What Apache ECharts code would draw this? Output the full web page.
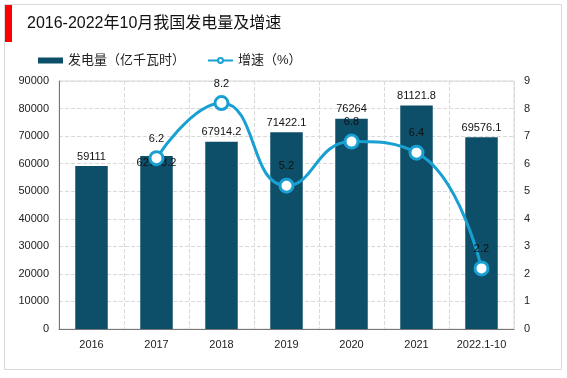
<!DOCTYPE html>
<html><head><meta charset="utf-8">
<script src="https://cdn.jsdelivr.net/npm/echarts@6/dist/echarts.min.js"></script>
<style>html,body{margin:0;padding:0;background:#fff}#c{width:567px;height:378px}</style>
</head><body><div id="c"></div>
<script>
const categories = ['2016','2017','2018','2019','2020','2021','2022.1-10'];
const generation = [59111, 62758.2, 67914.2, 71422.1, 76264, 81121.8, 69576.1];
const growth = ['-', 6.2, 8.2, 5.2, 6.8, 6.4, 2.2];
const leftTicks = {min:0, max:90000, interval:10000};
const rightTicks = {min:0, max:9, interval:1};

const chart = echarts.init(document.getElementById('c'));
const font = '"Liberation Sans", Arial, "Noto Sans CJK SC", sans-serif';
chart.setOption({
  backgroundColor:'#fff',
  animation:false,
  textStyle:{fontFamily:font},
  graphic:[
    {type:'rect', shape:{x:4.5,y:4.5,width:557,height:365}, style:{fill:'none',stroke:'#d9d9d9',lineWidth:1}},
    {type:'rect', shape:{x:5,y:5,width:7,height:37}, style:{fill:'#ff0000'}},
    {type:'text', left:27, top:16, style:{text:'2016-2022年10月我国发电量及增速', font:'16px '+font, fill:'#111'}}
  ],
  legend:{
    left:33, top:49, itemGap:22, itemWidth:25, itemHeight:6,
    textStyle:{fontSize:13, color:'#222', fontFamily:font},
    data:[{name:'发电量（亿千瓦时）', icon:'rect'}, {name:'增速（%）'}]
  },
  grid:{left:59, right:53, top:81, bottom:49, show:true, borderColor:'#d9d9d9', borderWidth:1},
  xAxis:{
    type:'category', data:categories,
    axisLine:{lineStyle:{color:'#777'}},
    axisTick:{show:false},
    axisLabel:{color:'#222', fontSize:11, margin:10},
    splitLine:{show:true, lineStyle:{type:'dashed', color:'#d9d9d9'}}
  },
  yAxis:[
    {type:'value', min:leftTicks.min, max:leftTicks.max, interval:leftTicks.interval,
     axisLine:{show:true, lineStyle:{color:'#777'}}, axisTick:{show:false},
     axisLabel:{color:'#222', fontSize:11, margin:10, formatter:(v)=>String(v)},
     splitLine:{lineStyle:{type:'dashed', color:'#d9d9d9'}}},
    {type:'value', min:rightTicks.min, max:rightTicks.max, interval:rightTicks.interval,
     axisLine:{show:false}, axisTick:{show:false},
     axisLabel:{color:'#222', fontSize:11, margin:10},
     splitLine:{show:false}}
  ],
  series:[
    {name:'发电量（亿千瓦时）', type:'bar', barWidth:'50%',
     itemStyle:{color:'#0d4e69'},
     label:{show:true, position:'top', color:'#111', fontSize:11, distance:4, formatter:(p)=>String(p.value)},
     data:generation.map((v,i)=> i===1 ? {value:v, label:{position:'insideTop', distance:1}} : v)},
    {name:'增速（%）', type:'line', yAxisIndex:1, smooth:0.5,
     lineStyle:{color:'#19a0d3', width:3},
     itemStyle:{color:'#fff', borderColor:'#19a0d3', borderWidth:3},
     symbol:'circle', symbolSize:13,
     label:{show:true, position:'top', color:'#111', fontSize:11, distance:6},
     data:growth}
  ]
});
</script></body></html>
